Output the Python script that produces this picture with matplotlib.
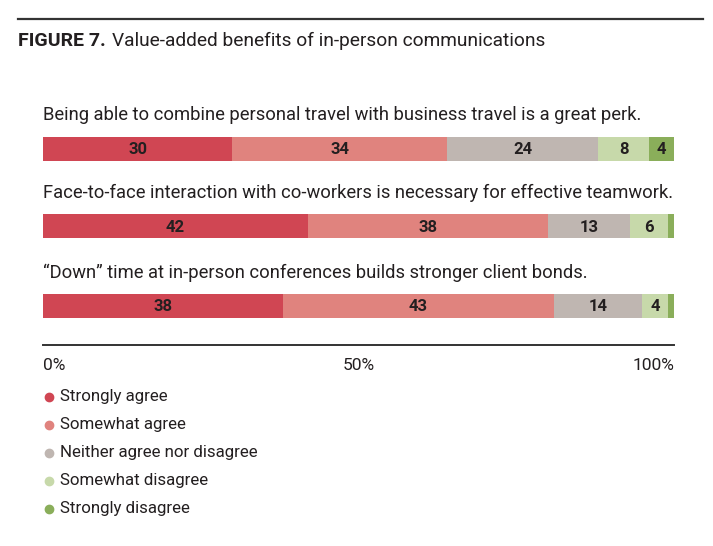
import matplotlib
matplotlib.use("Agg")
import matplotlib.pyplot as plt

plt.rcParams["font.family"] = ["Roboto", "DejaVu Sans"]

statements = [
    "Being able to combine personal travel with business travel is a great perk.",
    "Face-to-face interaction with co-workers is necessary for effective teamwork.",
    "\u201cDown\u201d time at in-person conferences builds stronger client bonds.",
]
categories = ["Strongly agree", "Somewhat agree", "Neither agree nor disagree",
              "Somewhat disagree", "Strongly disagree"]
values = [
    [30, 34, 24, 8, 4],
    [42, 38, 13, 6, 1],
    [38, 43, 14, 4, 1],
]
colors = ["#D04653", "#E0837E", "#BFB6B1", "#C7D9AA", "#8AAE5A"]
ticks = [0, 50, 100]
tick_labels = ["0%", "50%", "100%"]

W, H = 713, 546
txt = "#231F20"
fig = plt.figure(figsize=(W / 100, H / 100), dpi=100)

# top rule + title
fig.add_artist(plt.Line2D([18 / W, 703 / W], [1 - 19 / H, 1 - 19 / H], color="#333333", lw=1.6))
fig.text(18 / W, 1 - 41 / H, "FIGURE 7.", fontsize=14, fontweight="bold", color=txt, va="center")
fig.text(112 / W, 1 - 41 / H, "Value-added benefits of in-person communications",
         fontsize=13.8, color=txt, va="center")

# bars axis, y in pixel units
top, bottom = 100, 345
ax = fig.add_axes([43 / W, 1 - bottom / H, 631 / W, (bottom - top) / H])
ax.set_xlim(0, 100)
ax.set_ylim(bottom, top)
centers = [148.5, 226, 305.5]
for row, (stmt, vals) in enumerate(zip(statements, values)):
    left = 0
    y = centers[row]
    for v, c in zip(vals, colors):
        ax.barh(y, v, left=left, height=24, color=c, edgecolor="none")
        if v >= 3:
            ax.text(left + v / 2, y + 1, str(v), ha="center", va="center",
                    fontsize=12, fontweight="bold", color=txt)
        left += v
    ax.text(0, y - 33, stmt, ha="left", va="center", fontsize=13.25, color=txt)

for s in ["top", "left", "right"]:
    ax.spines[s].set_visible(False)
ax.spines["bottom"].set_color("#333333")
ax.spines["bottom"].set_linewidth(1.4)
ax.set_yticks([])
ax.set_xticks(ticks)
ax.set_xticklabels(tick_labels, fontsize=12.5, color=txt)
ax.tick_params(axis="x", length=0, pad=9)
tl = ax.get_xticklabels()
tl[0].set_ha("left")
tl[-1].set_ha("right")

# legend as dots + labels
for i, (cat, c) in enumerate(zip(categories, colors)):
    yy = 1 - (397 + i * 28) / H
    fig.text(60 / W, yy, cat, fontsize=12.2, color=txt, va="center")
    fig.add_artist(plt.Line2D([49 / W], [yy], marker="o", markersize=6,
                              color=c, linestyle="none"))

fig.savefig("out.png", dpi=100)
